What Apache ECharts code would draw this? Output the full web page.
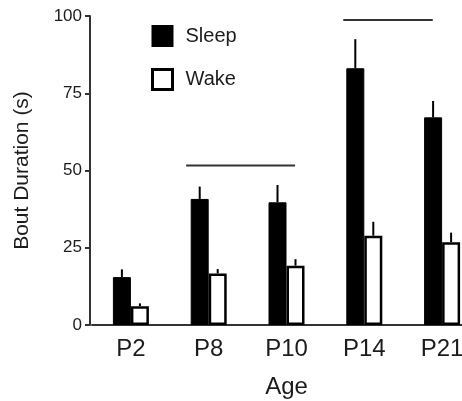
<!DOCTYPE html>
<html>
<head>
<meta charset="utf-8">
<script src="https://cdn.jsdelivr.net/npm/echarts@6/dist/echarts.min.js"></script>
<style>
  html, body { margin: 0; padding: 0; background: #fff; }
  #chart { width: 462px; height: 401px; }
</style>
</head>
<body>
<div id="chart"></div>
<script>
const ages = ['P2', 'P8', 'P10', 'P14', 'P21']
const sleepMean = [15.5, 40.8, 39.7, 83.1, 67.2]
const sleepUpper = [18, 44.8, 45.3, 92.5, 72.5]
const wakeMean = [6.1, 16.7, 19.2, 28.9, 26.8]
const wakeUpper = [7, 18.1, 21.3, 33.4, 29.9]
// significance bars: [from category, to category, height]
const sigLines = [
  [0.71, 2.11, 51.6],
  [2.73, 3.88, 98.7]
]
const yTicks = [0, 25, 50, 75, 100]

const font = '"Liberation Sans", Arial, Helvetica, sans-serif'
const ink = '#1c1c1c'
const barW = 18

const chart = echarts.init(document.getElementById('chart'))

function errorSeries(name, upper, mean, shift) {
  return {
    name: name,
    type: 'custom',
    silent: true,
    z: 1,
    data: upper.map((u, i) => [i, mean[i], u]),
    renderItem: function (params, api) {
      const lo = api.coord([api.value(0), api.value(1)])
      const hi = api.coord([api.value(0), api.value(2)])
      const x = lo[0] + shift
      return {
        type: 'line',
        shape: { x1: x, y1: lo[1], x2: x, y2: hi[1] },
        style: { stroke: '#000', lineWidth: 2 }
      }
    }
  }
}

chart.setOption({
  animation: false,
  textStyle: { fontFamily: font },
  grid: { left: 92, width: 389, top: 16, bottom: 76, outerBoundsMode: 'none' },
  legend: {
    orient: 'vertical',
    left: 146,
    top: 20,
    icon: 'rect',
    itemWidth: 20,
    itemHeight: 20,
    itemGap: 21,
    data: [
      { name: 'Sleep' },
      { name: 'Wake', itemStyle: { borderWidth: 3, borderColor: '#000' } }
    ],
    textStyle: { fontSize: 20, color: ink, fontFamily: font, padding: [0, 0, 0, 8] }
  },
  xAxis: {
    type: 'category',
    data: ages,
    name: 'Age',
    nameLocation: 'middle',
    nameGap: 50,
    nameTextStyle: { fontSize: 24, color: ink, fontFamily: font },
    axisLine: { lineStyle: { color: '#333', width: 2 } },
    axisTick: { show: false },
    axisLabel: { fontSize: 24, color: ink, margin: 12, fontFamily: font }
  },
  yAxis: {
    type: 'value',
    min: 0,
    max: 100,
    interval: 25,
    offset: 2,
    name: 'Bout Duration (s)',
    nameLocation: 'middle',
    nameGap: 57,
    nameTextStyle: { fontSize: 21, color: ink, fontFamily: font },
    axisLine: { show: true, lineStyle: { color: '#333', width: 2 } },
    axisTick: { show: true, length: 5, lineStyle: { color: '#333', width: 2 } },
    axisLabel: {
      fontSize: 17,
      color: ink,
      margin: 8,
      fontFamily: font,
      formatter: v => (yTicks.includes(v) ? String(v) : '')
    },
    splitLine: { show: false }
  },
  series: [
    {
      name: 'Sleep',
      type: 'bar',
      barWidth: barW,
      barGap: '0%',
      z: 2,
      itemStyle: { color: '#000', borderColor: '#000', borderWidth: 1 },
      data: sleepMean
    },
    {
      name: 'Wake',
      type: 'bar',
      barWidth: barW,
      barGap: '0%',
      z: 2,
      itemStyle: { color: '#fff', borderColor: '#000', borderWidth: 2.5 },
      data: wakeMean
    },
    errorSeries('Sleep err', sleepUpper, sleepMean, -barW / 2),
    errorSeries('Wake err', wakeUpper, wakeMean, barW / 2),
    {
      name: 'sig',
      type: 'custom',
      silent: true,
      data: sigLines,
      renderItem: function (params, api) {
        const band = api.size([1, 0])[0]
        const base = api.coord([0, api.value(2)])
        const x1 = base[0] + api.value(0) * band
        const x2 = base[0] + api.value(1) * band
        return {
          type: 'line',
          shape: { x1: x1, y1: base[1], x2: x2, y2: base[1] },
          style: { stroke: '#333', lineWidth: 2 }
        }
      }
    }
  ]
})

window.addEventListener('resize', () => chart.resize())
</script>
</body>
</html>
